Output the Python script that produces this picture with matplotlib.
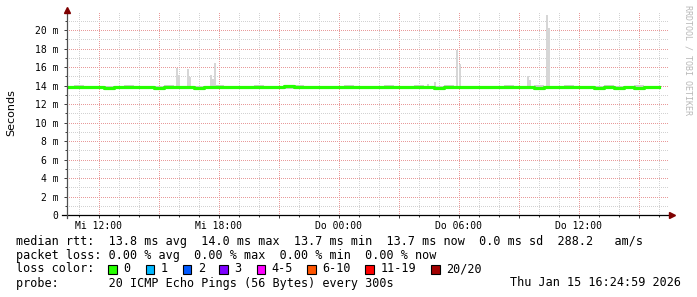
import numpy as np
import matplotlib.pyplot as plt
from matplotlib.patches import Rectangle
from matplotlib.ticker import FixedLocator

plt.rcParams['font.family'] = 'DejaVu Sans Mono'

# zeitachse in stunden ab Mi 00:00 (30 h fenster bis Do 16:25)
t_start = 10.42
t_end = 40.52
hours = np.arange(10.5, 40.5, 0.5)  # alle 30 min

# median rtt in ms
median = [13.8, 13.8, 13.8, 13.8, 13.7, 13.8, 13.8, 13.8, 13.8, 13.7,
          13.8, 13.8, 13.8, 13.7, 13.8, 13.8, 13.8, 13.8, 13.8, 13.8,
          13.8, 13.8, 13.9, 13.8, 13.8, 13.8, 13.8, 13.8, 13.8, 13.8,
          13.8, 13.8, 13.8, 13.8, 13.8, 13.8, 13.8, 13.7, 13.8, 13.8,
          13.8, 13.8, 13.8, 13.8, 13.8, 13.8, 13.8, 13.7, 13.8, 13.8,
          13.8, 13.8, 13.8, 13.7, 13.8, 13.7, 13.8, 13.7, 13.8, 13.8]

# smoke (min / max der einzelnen pings)
smoke_lo = [13.6] * 60
smoke_hi = [14.0, 14.1, 14.0, 14.0, 14.0, 14.0, 14.1, 14.0, 14.0, 14.0,
            14.1, 14.0, 14.0, 14.0, 14.0, 14.1, 14.0, 14.0, 14.0, 14.1,
            14.0, 14.0, 14.0, 14.1, 14.0, 14.0, 14.0, 14.0, 14.1, 14.0,
            14.0, 14.0, 14.1, 14.0, 14.0, 14.1, 14.0, 14.0, 14.1, 14.0,
            14.0, 14.0, 14.0, 14.0, 14.1, 14.0, 14.0, 14.1, 14.0, 14.0,
            14.1, 14.0, 14.0, 14.0, 14.1, 14.0, 14.0, 14.1, 14.0, 14.0]

# einzelne ausreisser
spike_hours = [15.93, 16.02, 16.47, 16.57, 17.60, 17.70, 17.82,
               28.47, 28.80, 29.93, 30.05, 33.47, 33.57, 34.43, 34.53]
spike_tops = [15.9, 15.1, 15.8, 14.95, 15.1, 14.7, 16.4,
              14.2, 14.4, 17.8, 16.3, 15.0, 14.6, 21.6, 20.2]

xtick_pos = [12, 15, 18, 21, 24, 27, 30, 33, 36, 39]
xtick_lab = ['Mi 12:00', '', 'Mi 18:00', '', 'Do 00:00', '', 'Do 06:00', '', 'Do 12:00', '']
ytick_pos = [0, 2, 4, 6, 8, 10, 12, 14, 16, 18, 20]
ytick_lab = ['0'] + ['%d m' % v for v in ytick_pos[1:]]

loss_labels = ['0', '1', '2', '3', '4-5', '6-10', '11-19', '20/20']
loss_colors = ['#26ff00', '#00b8ff', '#0059ff', '#7e00ff', '#ff00ff',
               '#ff5500', '#ff0000', '#a10000']

W, H = 697, 297
fig = plt.figure(figsize=(W / 100, H / 100), dpi=100)
fig.patch.set_facecolor('white')
ax = fig.add_axes([67 / W, 1 - 215 / H, 602 / W, 203 / H])

ax.set_xlim(t_start, t_end)
ax.set_ylim(0, 21.95)

# grid, gepunktet wie bei rrdtool
ax.xaxis.set_major_locator(FixedLocator(xtick_pos))
ax.xaxis.set_minor_locator(FixedLocator(np.arange(11, 41, 1)))
ax.yaxis.set_major_locator(FixedLocator(ytick_pos))
ax.yaxis.set_minor_locator(FixedLocator(np.arange(1, 22, 2)))
ax.set_xticklabels(xtick_lab)
ax.set_yticklabels(ytick_lab)
ax.grid(which='minor', color='#d2d2d2', linestyle=(0, (1, 2)), linewidth=0.72,
        antialiased=False)
ax.grid(which='major', color='#e89a9a', linestyle=(0, (1, 2)), linewidth=0.72,
        antialiased=False)
ax.set_axisbelow(True)
ax.tick_params(which='both', labelsize=7, color='#404040', width=0.72)
ax.tick_params(axis='x', which='major', length=2, pad=2)
ax.tick_params(axis='x', which='minor', length=1.2)
ax.tick_params(axis='y', which='major', length=2, pad=4)
ax.tick_params(axis='y', which='minor', length=1.2)
for s in ax.spines.values():
    s.set_visible(False)

# smoke + spikes
ax.fill_between(hours, smoke_lo, smoke_hi, step='mid', color='#cfcfcf', lw=0)
ax.bar(spike_hours, np.array(spike_tops) - 13.8, bottom=13.8, width=0.1,
       color='#d6d6d6', lw=0)
ax.plot(hours, median, drawstyle='steps-mid', color='#26ff00', lw=2.3)

# achsen + pfeile
ax.plot([-0.008, 1.002], [0, 0], color='black', lw=0.9, transform=ax.transAxes, clip_on=False)
ax.plot([0, 0], [-0.015, 1.0], color='#505050', lw=0.9, transform=ax.transAxes, clip_on=False)
ax.plot([1.005], [0], marker='>', color='#7f0000', ms=4, transform=ax.transAxes, clip_on=False)
ax.plot([0], [1.01], marker='^', color='#7f0000', ms=4, transform=ax.transAxes, clip_on=False)

fig.text(11 / W, 1 - 113 / H, 'Seconds', rotation=90, family='DejaVu Sans',
         fontsize=8, ha='center', va='center')
fig.text(688 / W, 1 - 60 / H, 'RRDTOOL / TOBI OETIKER', rotation=270,
         fontsize=6, color='#b8b8b8', ha='center', va='center')

fs = 8.45
lines = [
    'median rtt:  13.8 ms avg  14.0 ms max  13.7 ms min  13.7 ms now  0.0 ms sd  288.2   am/s',
    'packet loss: 0.00 % avg  0.00 % max  0.00 % min  0.00 % now',
    'loss color:',
    'probe:       20 ICMP Echo Pings (56 Bytes) every 300s',
]
for i, line in enumerate(lines):
    fig.text(16 / W, 1 - (241 + 14 * i) / H, line, fontsize=fs, ha='left', va='center')
fig.text(681 / W, 1 - 283 / H, 'Thu Jan 15 16:24:59 2026', fontsize=fs, ha='right', va='center')

box_x = [108, 145.7, 182.7, 219.3, 256.7, 307.3, 365.3, 431]
for bx, lab, col in zip(box_x, loss_labels, loss_colors):
    fig.patches.append(Rectangle((bx / W, 1 - 273.5 / H), 8.5 / W, 8.5 / H,
                                 transform=fig.transFigure, facecolor=col,
                                 edgecolor='black', lw=0.8))
    fig.text((bx + 15) / W, 1 - 269 / H, lab, fontsize=fs, ha='left', va='center')

fig.savefig('out.png', dpi=100)
